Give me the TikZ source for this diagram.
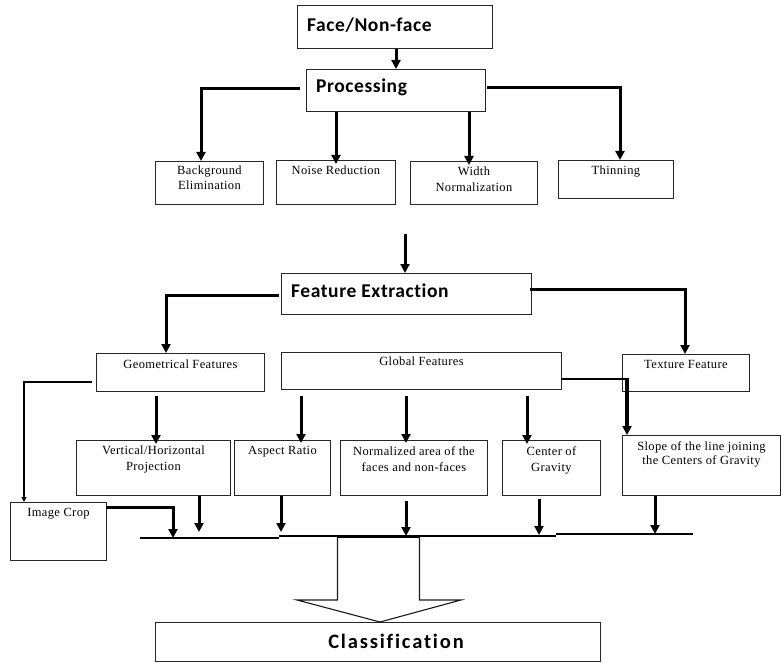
\documentclass[tikz,border=0pt]{standalone}
\usepackage{fontspec}
\setmainfont{Liberation Serif}[LetterSpace=3]
\newfontfamily\titlefont{Carlito}[Ligatures=NoCommon, LetterSpace=3]
\newfontfamily\clsfont{Carlito}[Ligatures=NoCommon, LetterSpace=9]
\usetikzlibrary{arrows.meta}
\tikzset{
  box/.style={draw=black!85, line width=0.9pt, anchor=north west, inner sep=0pt},
  small/.style={font=\fontsize{12.5}{16}\selectfont, align=center, inner sep=0pt, anchor=north},
  big/.style={font=\titlefont\bfseries\fontsize{19.5}{22}\selectfont, inner sep=0pt},
  arr/.style={line width=3pt, -{Triangle[length=9pt,width=9pt]}},
  base/.style={line width=1.5pt},
}
\newcommand{\bx}[5]{\node[box, minimum width=#3pt, minimum height=#4pt] (#5) at (#1,#2) {};}
\begin{document}
\begin{tikzpicture}[x=1pt,y=-1pt]
\useasboundingbox (0,0) rectangle (781,663);
% boxes
\bx{297}{5}{195}{43}{face}
\bx{306}{69}{179}{42}{proc}
\bx{155}{161}{108}{43}{bg}
\bx{276}{160}{119}{44}{noise}
\bx{410}{161}{127}{43}{width}
\bx{558}{160}{115}{38}{thin}
\bx{281}{273}{250}{41}{fe}
\bx{96}{353}{168}{38}{geo}
\bx{281}{352}{280}{37}{glob}
\bx{622}{354}{127}{37}{tex}
\bx{76}{440}{154}{55}{vert}
\bx{234}{440}{96}{55}{asp}
\bx{340}{440}{147}{55}{norm}
\bx{502}{440}{98}{55}{cog}
\bx{622}{435}{158}{60}{slope}
\bx{10}{502}{96}{58}{crop}
\bx{155}{622}{445}{39}{cls}
% titles
\node[big, anchor=west] (tface) at (307,25) {Face/Non-face};
\node[big, anchor=west] (tproc) at (316,87) {Processing};
\node[big, anchor=west] (tfe) at (291,291) {Feature Extraction};
\node[font=\clsfont\bfseries\fontsize{20.5}{24}\selectfont, inner sep=0pt] (tcls) at (396,641) {Classification};
% small labels
\node[small] (tbg) at ([yshift=-5pt]bg.north) {Background\\[-1.5pt]Elimination};
\node[small] (tnoise) at ([yshift=-6pt]noise.north) {Noise Reduction};
\node[small] (twidth) at ([yshift=-6pt]width.north) {Width\\Normalization};
\node[small] (tthin) at ([yshift=-6pt]thin.north) {Thinning};
\node[small] (tgeo) at ([yshift=-7pt]geo.north) {Geometrical Features};
\node[small] (tglob) at ([yshift=-5pt]glob.north) {Global Features};
\node[small] (ttex) at ([yshift=-6pt]tex.north) {Texture Feature};
\node[small] (tvert) at ([yshift=-6pt]vert.north) {Vertical/Horizontal\\Projection};
\node[small] (tasp) at ([yshift=-6pt]asp.north) {Aspect Ratio};
\node[small] (tnorm) at ([yshift=-6pt]norm.north) {Normalized area of the\\faces and non-faces};
\node[small] (tcog) at ([yshift=-6pt]cog.north) {Center of\\Gravity};
\node[small] (tslope) at ([yshift=-6pt]slope.north) {Slope of the line joining\\[-1.5pt]the Centers of Gravity};
\node[small] (tcrop) at ([yshift=-6pt]crop.north) {Image Crop};
% coordinates for connectors
\coordinate (procL) at (300,89);
\coordinate (procR) at (487,88);
\coordinate (feL) at (279,295);
\coordinate (feR) at (530,289);
\coordinate (geoL) at (92,382);
\coordinate (globR) at (561,379);
\coordinate (cropR) at (106,507);
\coordinate (b1) at (140,538);
\coordinate (b2) at (279,538);
\coordinate (b3) at (279,536);
\coordinate (b4) at (556,536);
\coordinate (b5) at (556,534);
\coordinate (b6) at (693,534);
% connectors top
\draw[arr] (face.south -| 396,0) -- (proc.north -| 396,0);
\draw[arr] (procL) -| (bg.north -| 201,0);
\draw[arr] (procR) -| (thin.north -| 620,0);
\draw[arr] (proc.south -| 336,0) -- ([yshift=-4pt]noise.north -| 336,0);
\draw[arr] (proc.south -| 469,0) -- ([yshift=-4pt]width.north -| 469,0);
\draw[arr] (405,234) -- (fe.north -| 405,0);
\draw[arr] (feL) -| (geo.north -| 166,0);
\draw[arr] (feR) -| (tex.north -| 685,0);
% to second level
\draw[arr] ([yshift=-4pt]geo.south -| 156,0) -- ([yshift=-4pt]vert.north -| 156,0);
\draw[arr] ([yshift=-6pt]glob.south -| 301,0) -- ([yshift=-3pt]asp.north -| 301,0);
\draw[arr] ([yshift=-6pt]glob.south -| 406,0) -- ([yshift=-3pt]norm.north -| 406,0);
\draw[arr] ([yshift=-6pt]glob.south -| 527,0) -- ([yshift=-4pt]cog.north -| 527,0);
\draw[line width=2pt] (globR) -- (627,379);
\draw[line width=3.6pt, -{Triangle[length=9pt,width=9pt]}] (627,378) -- (slope.north -| 627,0);
\draw[line width=2.6pt, -{Triangle[length=5pt,width=5pt]}] (geoL) -| (crop.north -| 24,0);
% to bottom line
\draw[arr] (cropR) -| (173,538);
\draw[arr] (vert.south -| 199,0) -- (199,532);
\draw[arr] (asp.south -| 281,0) -- (281,532);
\draw[arr] ([yshift=-5pt]norm.south -| 406,0) -- (406,536);
\draw[arr] ([yshift=-3pt]cog.south -| 539,0) -- (539,535);
\draw[arr] (slope.south -| 655,0) -- (655,534);
\draw[base] (b1) -- (b2) (b3) -- (b4) (b5) -- (b6);
% hollow arrow to classification
\draw[line width=1.1pt, draw=black!90, line join=miter]
  (337.5,600) -- (337.5,537) -- (419.5,537) -- (419.5,600) -- (461,600) -- (cls.north -| 380,0) -- (297,600) -- cycle;
\draw[line width=2.2pt] (337,537) -- (419,537);
\end{tikzpicture}
\end{document}
